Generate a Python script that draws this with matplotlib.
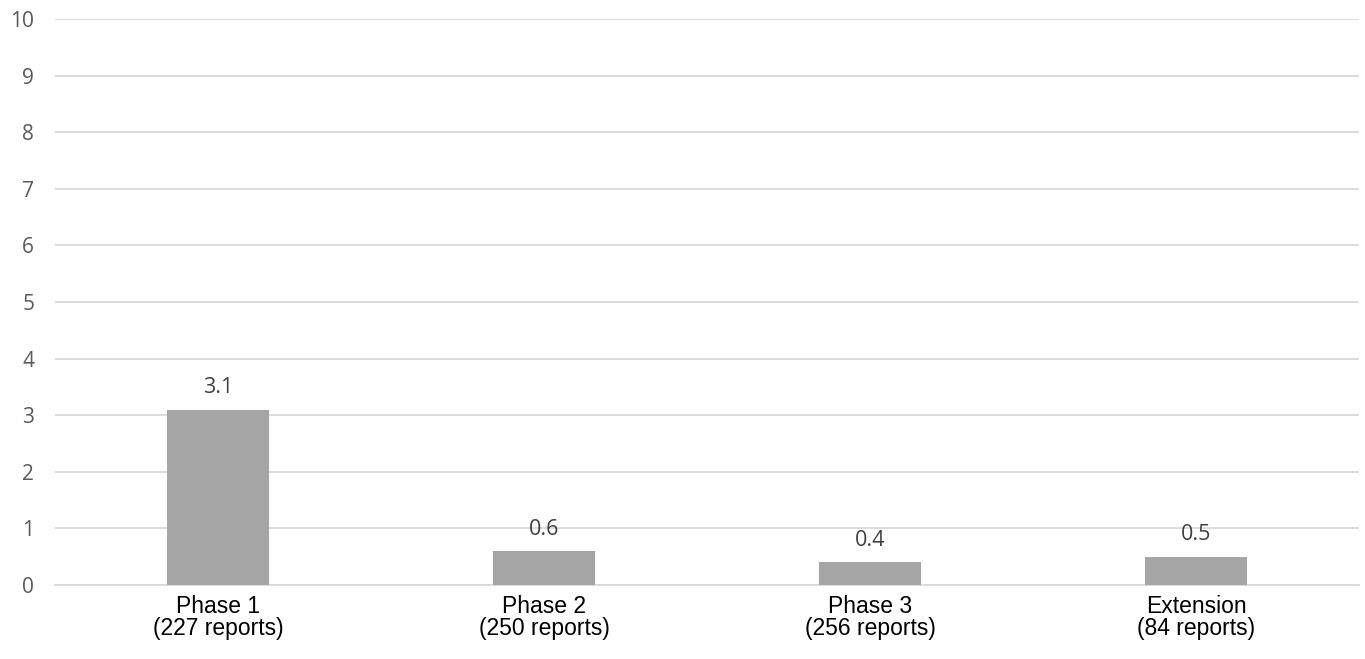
import matplotlib.pyplot as plt
import numpy as np

# data
categories = ['Phase 1\n(227 reports)', 'Phase 2\n(250 reports)',
              'Phase 3\n(256 reports)', 'Extension\n(84 reports)']
values = [3.1, 0.6, 0.4, 0.5]
yticks = list(range(0, 11))

fig = plt.figure(figsize=(13.65, 6.59), dpi=100)
ax = fig.add_axes([55/1365, 74/659, 1304/1365, 566/659])

x = np.arange(len(categories))
bars = ax.bar(x, values, width=0.31, color='#A5A5A5', zorder=3)

# etiquetas de valor
for b, v in zip(bars, values):
    ax.text(b.get_x() + b.get_width()/2, v + 0.2, f'{v:.1f}',
            ha='center', va='bottom', fontsize=15.5, color='#404040',
            family='Open Sans', zorder=4)

ax.set_xlim(-0.5, len(categories) - 0.5)
ax.set_ylim(0, 10)
ax.set_yticks(yticks)
ax.set_yticklabels([str(t) for t in yticks], family='Open Sans',
                   fontsize=15, color='#595959')
ax.set_xticks(x)
ax.set_xticklabels(categories, family='Liberation Sans', fontsize=16.5,
                   color='black', linespacing=0.95)
ax.tick_params(axis='both', length=0)
ax.tick_params(axis='y', pad=15)
ax.tick_params(axis='x', pad=7)

ax.grid(axis='y', color='#D9D9D9', linewidth=1.3, zorder=0)
for s in ['top', 'right', 'left']:
    ax.spines[s].set_visible(False)
ax.spines['bottom'].set_color('#D9D9D9')
ax.spines['bottom'].set_linewidth(1.3)

fig.savefig('out.png', dpi=100)
